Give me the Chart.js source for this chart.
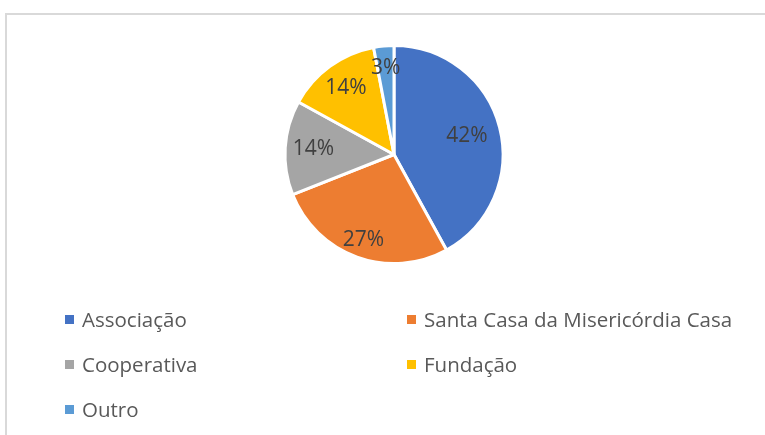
<!DOCTYPE html>
<html>
<head>
<meta charset="utf-8">
<script src="https://cdn.jsdelivr.net/npm/chart.js@4/dist/chart.umd.min.js"></script>
<style>
    html, body { margin: 0; padding: 0; background: #fff; overflow: hidden; }
    body { width: 765px; height: 435px; position: relative; font-family: "Open Sans", sans-serif; }
    #frame { position: absolute; left: 5px; top: 13px; width: 800px; height: 500px; border: 2px solid #d9d9d9; box-sizing: border-box; }
    #chart-box { position: absolute; left: 0; top: 0; width: 765px; height: 300px; }
    #legend { position: absolute; left: 0; top: 0; width: 765px; height: 435px; }
    .item { position: absolute; display: flex; align-items: center; font-size: 20.5px; color: #595959; white-space: nowrap; height: 26px; }
    .item span.box { width: 9px; height: 9px; margin-right: 8px; display: inline-block; }
</style>
</head>
<body>
<div id="frame"></div>
<div id="chart-box"><canvas id="pie"></canvas></div>
<div id="legend"></div>
<script>
const categories = ['Associação', 'Santa Casa da Misericórdia Casa', 'Cooperativa', 'Fundação', 'Outro'];
const shares = [42, 27, 14, 14, 3];
const colors = ['#4472C4', '#ED7D31', '#A5A5A5', '#FFC000', '#5B9BD5'];

// draws the percentage labels inside each slice
const sliceLabels = {
    id: 'sliceLabels',
    afterDatasetsDraw(chart, args, opts) {
        const ctx = chart.ctx;
        const meta = chart.getDatasetMeta(0);
        const data = chart.data.datasets[0].data;
        const total = data.reduce((s, v) => s + v, 0);
        ctx.save();
        ctx.font = '21px "Open Sans"';
        ctx.fillStyle = '#404040';
        ctx.textAlign = 'center';
        ctx.textBaseline = 'middle';
        meta.data.forEach((arc, i) => {
            const mid = (arc.startAngle + arc.endAngle) / 2;
            const r = arc.outerRadius * opts.radius[i];
            const x = arc.x + Math.cos(mid) * r;
            const y = arc.y + Math.sin(mid) * r;
            ctx.fillText(Math.round(data[i] / total * 100) + '%', x, y);
        });
        ctx.restore();
    }
};

new Chart(document.getElementById('pie'), {
    type: 'pie',
    data: {
        labels: categories,
        datasets: [{
            data: shares,
            backgroundColor: colors,
            borderColor: '#ffffff',
            borderWidth: 3
        }]
    },
    options: {
        responsive: true,
        maintainAspectRatio: false,
        animation: false,
        layout: { padding: { top: 44, bottom: 35, left: 23, right: 0 } },
        plugins: {
            legend: { display: false },
            tooltip: { enabled: false },
            sliceLabels: { radius: [0.69, 0.83, 0.74, 0.75, 0.8] }
        }
    },
    plugins: [sliceLabels]
});

// legend in two columns, like the original
const legendEl = document.getElementById('legend');
categories.forEach((name, i) => {
    const col = i % 2;
    const row = Math.floor(i / 2);
    const item = document.createElement('div');
    item.className = 'item';
    item.style.left = (col === 0 ? 65 : 407) + 'px';
    item.style.top = (306 + row * 45) + 'px';
    item.innerHTML = '<span class="box" style="background:' + colors[i] + '"></span>' + name;
    legendEl.appendChild(item);
});
</script>
</body>
</html>
